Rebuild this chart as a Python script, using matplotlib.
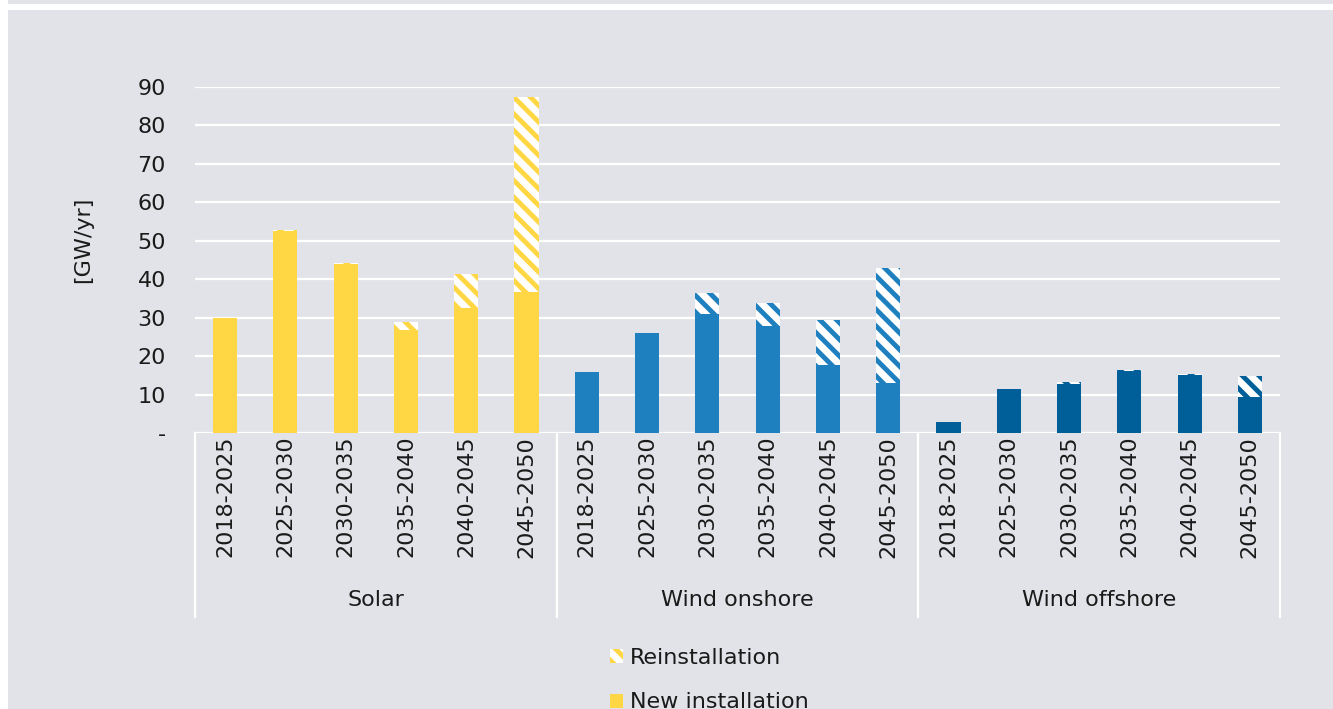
import matplotlib
matplotlib.use("Agg")
import matplotlib.pyplot as plt
from matplotlib.patches import Patch, Rectangle
import numpy as np

periods = ["2018-2025", "2025-2030", "2030-2035", "2035-2040", "2040-2045", "2045-2050"]
groups = ["Solar", "Wind onshore", "Wind offshore"]
group_colors = ["#FFD744", "#1F80C0", "#005F99"]

solar_new = [29.9, 52.6, 44.0, 26.8, 32.6, 36.7]
solar_re = [0.0, 0.3, 0.2, 2.2, 8.8, 50.7]
onshore_new = [15.9, 26.0, 31.0, 27.8, 17.7, 13.0]
onshore_re = [0.0, 0.0, 5.4, 6.0, 11.6, 29.9]
offshore_new = [2.9, 11.4, 12.8, 16.1, 15.0, 9.4]
offshore_re = [0.0, 0.0, 0.5, 0.3, 0.3, 5.4]

yticks = [0, 10, 20, 30, 40, 50, 60, 70, 80, 90]
ytick_labels = ["-", "10", "20", "30", "40", "50", "60", "70", "80", "90"]

BG = "#E2E3E8"
TEXT = "#1a1a1a"

plt.rcParams["font.family"] = ["DejaVu Sans"]
plt.rcParams["hatch.linewidth"] = 3.5

fig = plt.figure(figsize=(13.33, 7.09), dpi=100, facecolor="white")
W, H = 1333, 709
# grey panel with white frame strip on top/left
fig.patches.append(Rectangle((8 / W, 0), 1, 1 - 10 / H, transform=fig.transFigure,
                             facecolor=BG, edgecolor="none", zorder=-10))
fig.patches.append(Rectangle((8 / W, 1 - 4 / H), 1, 4 / H, transform=fig.transFigure,
                             facecolor=BG, edgecolor="none", zorder=-10))

ax = fig.add_axes([195 / W, 1 - 433 / H, (1280 - 195) / W, (433 - 87) / H])
ax.set_facecolor("none")

new_all = [solar_new, onshore_new, offshore_new]
re_all = [solar_re, onshore_re, offshore_re]
n = len(periods)
for g in range(len(groups)):
    x = np.arange(n) + g * n
    ax.bar(x, new_all[g], width=0.4, color=group_colors[g], linewidth=0, zorder=3)
    ax.bar(x, re_all[g], width=0.4, bottom=new_all[g], facecolor="white",
           edgecolor=group_colors[g], hatch="\\\\", linewidth=0, zorder=3)

ax.set_xlim(-0.5, 3 * n - 0.5)
ax.set_ylim(0, 90)
ax.set_yticks(yticks)
ax.set_yticklabels(ytick_labels, fontsize=16, color=TEXT)
ax.set_xticks(np.arange(3 * n))
ax.set_xticklabels(periods * 3, rotation=90, fontsize=16, color=TEXT)
ax.tick_params(axis="both", length=0)
ax.tick_params(axis="y", pad=21)
ax.tick_params(axis="x", pad=2)
ax.grid(axis="y", color="white", linewidth=1.6, zorder=0)
for s in ax.spines.values():
    s.set_visible(False)

# group separators and labels
for g in range(len(groups) + 1):
    ax.plot([g * n - 0.5, g * n - 0.5], [0, -0.532], transform=ax.get_xaxis_transform(),
            color="white", linewidth=1.6, clip_on=False, zorder=1)
for g, name in enumerate(groups):
    ax.text(g * n + (n - 1) / 2, -0.483, name, transform=ax.get_xaxis_transform(),
            ha="center", va="center", fontsize=16, color=TEXT)

fig.text(83 / W, 1 - 240 / H, "[GW/yr]", rotation=90, ha="center", va="center",
         fontsize=16, color=TEXT)

handles = [Patch(facecolor="white", edgecolor=group_colors[0], hatch="\\\\", linewidth=0),
           Patch(facecolor=group_colors[0], linewidth=0)]
fig.legend(handles, ["Reinstallation", "New installation"], loc="upper left",
           bbox_to_anchor=(590 / W, 1 - 628 / H), frameon=False, fontsize=16,
           handlelength=0.6, handleheight=0.6, handletextpad=0.3, labelspacing=1.1,
           labelcolor=TEXT)

fig.savefig("out.png", dpi=100, facecolor="white")
